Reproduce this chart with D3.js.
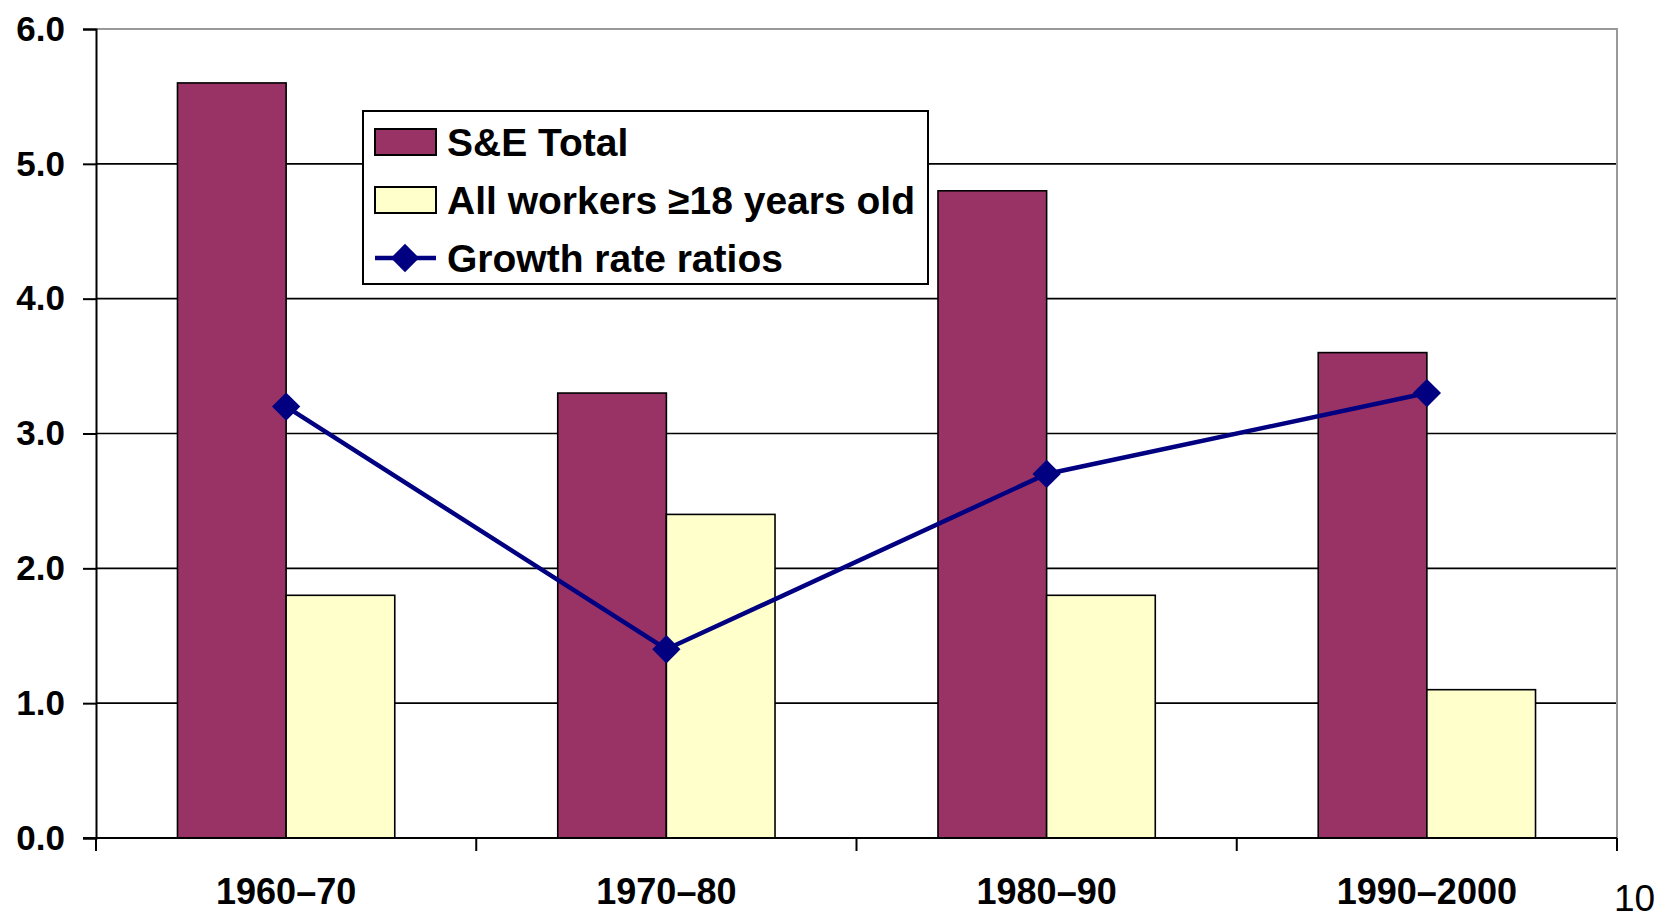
<!DOCTYPE html>
<html>
<head>
<meta charset="utf-8">
<script src="https://cdn.jsdelivr.net/npm/d3@7"></script>
<style>
  html, body { margin:0; padding:0; background:#fff; }
  svg { display:block; font-family: "Liberation Sans", Arial, sans-serif; }
</style>
</head>
<body>
<svg id="chart" width="1667" height="919"></svg>
<script>
// Growth rates by decade
const categories = ['1960\u201370', '1970\u201380', '1980\u201390', '1990\u20132000'];
const seTotal = [5.6, 3.3, 4.8, 3.6];
const allWorkers = [1.8, 2.4, 1.8, 1.1];
const growthRatios = [3.2, 1.4, 2.7, 3.3];
const yTicks = [0, 1, 2, 3, 4, 5, 6];
const seriesNames = ['S&E Total', 'All workers \u226518 years old', 'Growth rate ratios'];

(function(){
  const colors = { se:'#993366', all:'#FFFFCC', line:'#000080' };

  const svg = d3.select('#chart');
  const plotL = 96, plotR = 1617, plotT = 29, plotB = 838;

  const x0 = d3.scaleBand().domain(categories).range([plotL, plotR]).padding(0);
  const x1 = d3.scaleBand().domain(['se','all']).range([0, x0.bandwidth()]).paddingInner(0).paddingOuter(0.75);
  const y = d3.scaleLinear().domain([0, 6]).range([plotB, plotT]);

  // gridlines (1..5 black)
  svg.append('g').selectAll('line').data(yTicks.filter(t => t > 0 && t < 6)).enter().append('line')
    .attr('x1', plotL).attr('x2', plotR)
    .attr('y1', d => y(d)).attr('y2', d => y(d))
    .attr('stroke', '#000').attr('stroke-width', 1.6);

  // plot border top / right (grey)
  svg.append('path')
    .attr('d', `M${plotL},${y(6)}H${plotR}V${y(0)}`)
    .attr('fill', 'none').attr('stroke', '#999').attr('stroke-width', 2);

  // bars
  const rows = categories.map((c, i) => ({ cat:c, se:seTotal[i], all:allWorkers[i], ratio:growthRatios[i] }));
  const gBars = svg.append('g');
  rows.forEach(r => {
    ['se','all'].forEach(k => {
      gBars.append('rect')
        .attr('x', x0(r.cat) + x1(k))
        .attr('y', y(r[k]))
        .attr('width', x1.bandwidth())
        .attr('height', y(0) - y(r[k]))
        .attr('fill', colors[k])
        .attr('stroke', '#000').attr('stroke-width', 1.6);
    });
  });

  // axes
  const yAxis = svg.append('g').attr('transform', `translate(${plotL},0)`)
    .call(d3.axisLeft(y).tickValues(yTicks).tickFormat(d3.format('.1f')).tickSize(13).tickPadding(18));
  yAxis.select('.domain').attr('stroke', '#000').attr('stroke-width', 2);
  yAxis.selectAll('.tick line').attr('stroke', '#000').attr('stroke-width', 2);
  yAxis.selectAll('.tick text').attr('font-size', 35).attr('font-weight', 'bold').attr('fill', '#000')
    .attr('font-family', '"Liberation Sans", Arial, sans-serif');

  const xAxis = svg.append('g').attr('transform', `translate(0,${plotB})`);
  xAxis.append('line').attr('x1', plotL - 13).attr('x2', plotR).attr('y1', 0).attr('y2', 0)
    .attr('stroke', '#000').attr('stroke-width', 2);
  xAxis.selectAll('line.tk').data(categories.map(c => x0(c)).concat([plotR])).enter().append('line')
    .attr('class', 'tk')
    .attr('x1', d => d).attr('x2', d => d).attr('y1', 0).attr('y2', 13)
    .attr('stroke', '#000').attr('stroke-width', 2);
  xAxis.selectAll('text').data(categories).enter().append('text')
    .attr('x', d => x0(d) + x0.bandwidth() / 2).attr('y', 66)
    .attr('text-anchor', 'middle')
    .attr('font-size', 36).attr('font-weight', 'bold').attr('fill', '#000')
    .text(d => d);

  // growth rate ratio line
  const lineX = d => x0(d.cat) + x1('all');
  svg.append('path').datum(rows)
    .attr('d', d3.line().x(lineX).y(d => y(d.ratio)))
    .attr('fill', 'none').attr('stroke', colors.line).attr('stroke-width', 4.5);
  const diamond = d3.symbol().type(d3.symbolSquare).size(400);
  svg.append('g').selectAll('path').data(rows).enter().append('path')
    .attr('d', diamond)
    .attr('transform', d => `translate(${lineX(d)},${y(d.ratio)}) rotate(45)`)
    .attr('fill', colors.line);

  // legend
  const legend = svg.append('g').attr('transform', 'translate(363,111)');
  legend.append('rect').attr('width', 565).attr('height', 173)
    .attr('fill', '#fff').attr('stroke', '#000').attr('stroke-width', 2);
  const rowY = [31, 89, 147];
  [colors.se, colors.all].forEach((c, i) => {
    legend.append('rect').attr('x', 12).attr('y', rowY[i] - 13).attr('width', 61).attr('height', 26)
      .attr('fill', c).attr('stroke', '#000').attr('stroke-width', 2);
  });
  legend.append('line').attr('x1', 12).attr('x2', 73).attr('y1', rowY[2]).attr('y2', rowY[2])
    .attr('stroke', colors.line).attr('stroke-width', 4.5);
  legend.append('path').attr('d', diamond)
    .attr('transform', `translate(42,${rowY[2]}) rotate(45)`).attr('fill', colors.line);
  legend.selectAll('text').data(seriesNames).enter().append('text')
    .attr('x', 84).attr('y', (d, i) => rowY[i] + 14)
    .attr('font-size', 39).attr('font-weight', 'bold').attr('fill', '#000')
    .text(d => d);

  // page number
  svg.append('text').attr('x', 1614).attr('y', 911)
    .attr('font-size', 37).attr('fill', '#000').text('10');
})();
</script>
</body>
</html>
